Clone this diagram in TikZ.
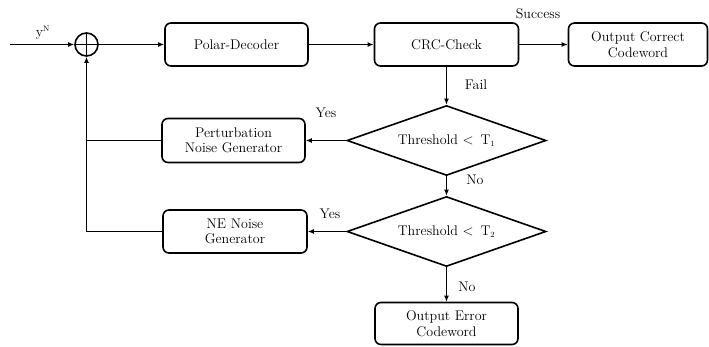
\documentclass[tikz,border=0pt]{standalone}
\usepackage{fontspec}
\usetikzlibrary{shapes.geometric,arrows.meta}
\begin{document}
\begin{tikzpicture}[x=1pt,y=-1pt,
  font=\fontsize{14}{15.5}\selectfont,
  every path/.style={line width=1.6pt},
  box/.style={draw, rounded corners=6pt, align=center, inner sep=0pt},
  decision/.style={draw, diamond, inner sep=0pt, minimum width=199pt, minimum height=70pt, aspect=2.84},
  sumnode/.style={draw, circle, minimum size=23pt, inner sep=0pt,
    path picture={\draw (path picture bounding box.north) -- (path picture bounding box.south)
                        (path picture bounding box.west) -- (path picture bounding box.east);}},
  arr/.style={-{Latex[length=6pt,width=5pt]}},
  lbl/.style={inner sep=0pt}]
\useasboundingbox (0,0) rectangle (709,346);

% main blocks
\coordinate (in) at (10,44.5);
\node[sumnode] (sum) at (86.5,44.5) {};
\node[box, minimum width=143pt, minimum height=43pt] (dec) at (236.5,44.5) {Polar-Decoder};
\node[box, minimum width=144pt, minimum height=43pt] (crc) at (446.5,44.5) {CRC-Check};
\node[box, minimum width=139pt, minimum height=43pt] (occ) at (638,44.5) {Output Correct\\Codeword};
\node[decision] (d1) at (446.5,140.5) {Threshold $<$ \,T\textsubscript{\footnotesize 1}};
\node[decision] (d2) at (446.5,231.5) {Threshold $<$ \,T\textsubscript{\footnotesize 2}};
\node[box, minimum width=143pt, minimum height=42pt] (oec) at (446.5,323.5) {Output Error\\Codeword};
\node[box, minimum width=143pt, minimum height=44pt] (png) at (233.5,140.5) {Perturbation\\Noise Generator};
\node[box, minimum width=144pt, minimum height=43pt] (neg) at (235,231.5) {NE Noise\\Generator};

% forward flow
\draw[arr] (in) -- (sum);
\draw[arr] (sum) -- (dec);
\draw[arr] (dec) -- (crc);
\draw[arr] (crc) -- (occ);
\draw[arr] (crc) -- (d1);
\draw[arr] (d1) -- (d2);
\draw[arr] (d2) -- (oec);
\draw[arr] (d1) -- (png);
\draw[arr] (d2) -- (neg);

% feedback to the adder
\coordinate (fb1) at (86.5,140.5);
\coordinate (fb2) at (86.5,231.5);
\draw (png.west) -- (fb1);
\draw (neg.west) -- (fb2);
\draw[arr] (fb2) -- (sum.south);

% labels
\node[lbl] (ly) at (43,33) {y\textsuperscript{\footnotesize N}};
\node[lbl] (ls) at (538,14) {Success};
\node[lbl] (lf) at (476,85) {Fail};
\node[lbl] (ly1) at (326,113) {Yes};
\node[lbl] (ln1) at (475,180) {No};
\node[lbl] (ly2) at (330,214) {Yes};
\node[lbl] (ln2) at (467,287) {No};
\end{tikzpicture}
\end{document}
